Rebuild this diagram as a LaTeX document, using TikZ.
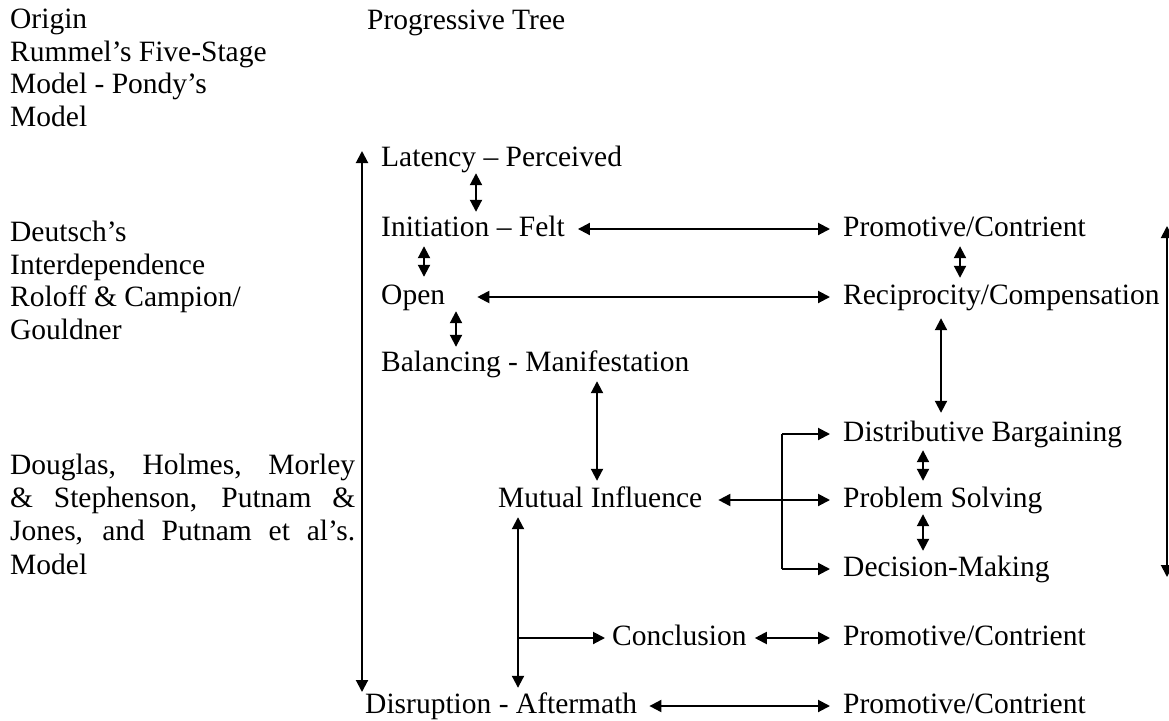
\documentclass[tikz,border=0pt]{standalone}
\usepackage{fontspec}
\setmainfont{Liberation Serif}
\usetikzlibrary{arrows.meta,calc}
\begin{document}
\begin{tikzpicture}[x=1pt,y=-1pt,
  txt/.style={anchor=base west,inner sep=0pt,font=\fontsize{29.5}{33}\selectfont,text height=20pt,text depth=6pt},
  blk/.style={anchor=north west,inner sep=0pt,align=left,font=\fontsize{29.5}{32.5}\selectfont},
  conn/.style={line width=2pt,{Triangle[length=12pt,width=12pt]}-{Triangle[length=12pt,width=12pt]}},
  one/.style={line width=2pt,-{Triangle[length=12pt,width=12pt]}},
  plain/.style={line width=2pt},
  vc/.style={conn,shorten <=1pt,shorten >=4pt},
]
\useasboundingbox (0,0) rectangle (1169,720);

% left column
\node[blk] (orig) at (10,9) {Origin\\Rummel's Five-Stage\\Model - Pondy's\\Model};
\node[blk] (deut) at (10,221) {Deutsch's\\Interdependence\\Roloff \& Campion/\\Gouldner};
\node[blk] (doug) at (10,454) {\makebox[345pt][s]{Douglas, Holmes, Morley}\\[0.5pt]\makebox[345pt][s]{\& Stephenson, Putnam \&}\\[0.5pt]\makebox[345pt][s]{Jones, and Putnam et al's.}\\[1pt]Model};

% tree
\node[txt] (prog) at (367,29) {Progressive Tree};
\node[txt] (lat)  at (381,166) {Latency – Perceived};
\node[txt] (init) at (381,236) {Initiation – Felt};
\node[txt] (open) at (381,304) {Open};
\node[txt] (bal)  at (381,371) {Balancing - Manifestation};
\node[txt] (mut)  at (498,507) {Mutual Influence};
\node[txt] (conc) at (612,645) {Conclusion};
\node[txt] (dis)  at (365,713) {Disruption - Aftermath};
\node[txt] (pc1)  at (843,236) {Promotive/Contrient};
\node[txt] (rec)  at (843,304) {Reciprocity/Compensation};
\node[txt] (dist) at (843,441) {Distributive Bargaining};
\node[txt] (prob) at (843,507) {Problem Solving};
\node[txt] (dec)  at (843,576) {Decision-Making};
\node[txt] (pc2)  at (843,645) {Promotive/Contrient};
\node[txt] (pc3)  at (843,713) {Promotive/Contrient};

% x positions of vertical connectors
\coordinate (xa) at (476,0);
\coordinate (xb) at (424,0);
\coordinate (xc) at (456,0);
\coordinate (xd) at (960,0);
\coordinate (xe) at (941,0);
\coordinate (xf) at (923,0);
\coordinate (xg) at (597,0);
\coordinate (xh) at (518,0);
\coordinate (xk) at (782,0);

% vertical double arrows
\draw[vc] (lat.south -| xa) -- (init.north -| xa);
\draw[vc,shorten <=4pt,shorten >=7pt] (init.south -| xb) -- (open.north -| xb);
\draw[vc] (open.south -| xc) -- (bal.north -| xc);
\draw[vc,shorten <=4pt,shorten >=6pt] (pc1.south -| xd) -- (rec.north -| xd);
\draw[vc,shorten <=8pt,shorten >=8pt] (rec.south -| xe) -- (dist.north -| xe);
\draw[vc,shorten <=3pt,shorten >=6pt] (dist.south -| xf) -- (prob.north -| xf);
\draw[vc,shorten <=1pt,shorten >=5pt] (prob.south -| xf) -- (dec.north -| xf);
\draw[vc,shorten <=4pt,shorten >=6pt] (bal.south -| xg) -- (mut.north -| xg);
\draw[vc,shorten <=4pt,shorten >=5pt] (mut.south -| xh) -- (dis.north -| xh);

% horizontal double arrows
\draw[conn,shorten <=13pt,shorten >=13pt] (init.east) -- (pc1.west);
\draw[conn,shorten <=32pt,shorten >=13pt] (open.east) -- (rec.west);
\draw[conn,shorten <=16pt,shorten >=13pt] (mut.east) -- (prob.west);
\draw[conn,shorten <=8pt,shorten >=13pt] (conc.east) -- (pc2.west);
\draw[conn,shorten <=12pt,shorten >=13pt] (dis.east) -- (pc3.west);

% bracket from mutual influence
\draw[plain] (dist.west -| xk) -- (dec.west -| xk);
\draw[one,shorten >=13pt] (dist.west -| xk) -- (dist.west);
\draw[one,shorten >=13pt] (dec.west -| xk) -- (dec.west);

% branch to conclusion
\draw[one,shorten >=7pt] (conc.west -| xh) -- (conc.west);

% long timeline arrows
\coordinate (lt) at (362,151);
\coordinate (lb) at (362,692);
\draw[conn] (lb) -- (lt);
\coordinate (rt) at (1167,226);
\coordinate (rb) at (1167,577);
\draw[conn] (rb) -- (rt);
\end{tikzpicture}
\end{document}
